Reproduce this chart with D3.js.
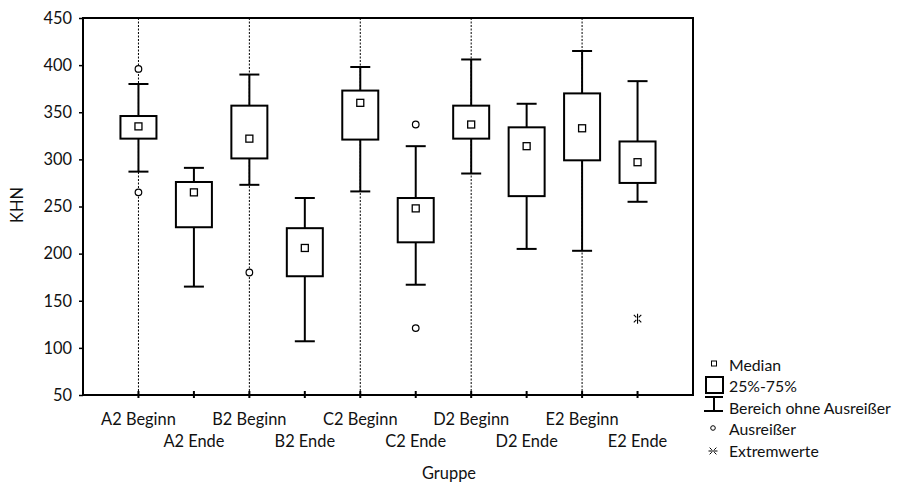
<!DOCTYPE html>
<html>
<head>
<meta charset="utf-8">
<script src="https://cdn.jsdelivr.net/npm/d3@7"></script>
<style>
  html, body { margin: 0; padding: 0; background: #fff; }
  svg { display: block; font-family: Lato, "Open Sans", sans-serif; }
</style>
</head>
<body>
<svg id="chart" width="899" height="482"></svg>
<script>
// Knoop hardness (KHN) per group: start (Beginn) and end (Ende) of the series
const groups   = ["A2 Beginn", "A2 Ende", "B2 Beginn", "B2 Ende", "C2 Beginn",
                  "C2 Ende", "D2 Beginn", "D2 Ende", "E2 Beginn", "E2 Ende"];
const whiskLow = [287, 165, 273, 107, 266, 167, 285, 205, 203, 255];
const q1       = [322, 228, 301, 176, 321, 212, 322, 261, 299, 275];
const median   = [335, 265, 322, 206, 360, 248, 337, 314, 333, 297];
const q3       = [346, 276, 357, 227, 373, 259, 357, 334, 370, 319];
const whiskHigh= [380, 291, 390, 259, 398, 314, 406, 359, 415, 383];
// outliers and extreme values: [group, value]
const outliers = [["A2 Beginn", 396], ["A2 Beginn", 265], ["B2 Beginn", 180],
                  ["C2 Ende", 337], ["C2 Ende", 121]];
const extremes = [["E2 Ende", 131]];
const yTicks   = [50, 100, 150, 200, 250, 300, 350, 400, 450];
const legendLabels = ["Median", "25%-75%", "Bereich ohne Ausreißer", "Ausreißer", "Extremwerte"];

const svg = d3.select("#chart");
const plot = { left: 83, right: 693, top: 18, bottom: 395 };

const x = d3.scalePoint().domain(groups).range([plot.left, plot.right]).padding(1);
const y = d3.scaleLinear().domain([50, 450]).range([plot.bottom, plot.top]);

const fontSize = 16.4;

// dashed guide lines through the "Beginn" groups
svg.append("g").selectAll("line")
  .data(groups.filter((g, i) => i % 2 === 0))
  .join("line")
  .attr("x1", d => x(d)).attr("x2", d => x(d))
  .attr("y1", plot.top).attr("y2", plot.bottom)
  .attr("stroke", "#000").attr("stroke-width", 1)
  .attr("stroke-dasharray", "2,1.5");

// y axis
const yAxis = svg.append("g")
  .attr("transform", `translate(${plot.left},0)`)
  .call(d3.axisLeft(y).tickValues(yTicks).tickSize(4).tickPadding(7));
yAxis.select(".domain").remove();
yAxis.selectAll(".tick line").attr("stroke", "#000").attr("stroke-width", 1.5);
yAxis.selectAll(".tick text").attr("font-size", fontSize).attr("font-family", "Lato").attr("fill", "#111");

// x axis ticks crossing the baseline
svg.append("g").selectAll("line")
  .data(groups)
  .join("line")
  .attr("x1", d => x(d)).attr("x2", d => x(d))
  .attr("y1", plot.bottom - 4).attr("y2", plot.bottom + 3)
  .attr("stroke", "#000").attr("stroke-width", 2);

// x labels on two staggered rows
svg.append("g").selectAll("text")
  .data(groups)
  .join("text")
  .attr("x", d => x(d))
  .attr("y", (d, i) => i % 2 === 0 ? 425 : 447)
  .attr("text-anchor", "middle")
  .attr("font-size", fontSize)
  .attr("fill", "#111")
  .text(d => d);

// frame
svg.append("rect")
  .attr("x", plot.left).attr("y", plot.top)
  .attr("width", plot.right - plot.left).attr("height", plot.bottom - plot.top)
  .attr("fill", "none").attr("stroke", "#000").attr("stroke-width", 2);

// axis titles
svg.append("text")
  .attr("x", 449).attr("y", 479)
  .attr("text-anchor", "middle").attr("font-size", fontSize).attr("fill", "#111")
  .text("Gruppe");
svg.append("text")
  .attr("transform", "translate(23,205) rotate(-90)")
  .attr("text-anchor", "middle").attr("font-size", fontSize).attr("fill", "#111")
  .text("KHN");

// box plots
const boxW = 36, capW = 20;
const boxes = svg.append("g").selectAll("g")
  .data(groups.map((g, i) => ({ g, lo: whiskLow[i], q1: q1[i], med: median[i], q3: q3[i], hi: whiskHigh[i] })))
  .join("g");

boxes.append("line")
  .attr("x1", d => x(d.g)).attr("x2", d => x(d.g))
  .attr("y1", d => y(d.hi)).attr("y2", d => y(d.q3))
  .attr("stroke", "#000").attr("stroke-width", 2);
boxes.append("line")
  .attr("x1", d => x(d.g)).attr("x2", d => x(d.g))
  .attr("y1", d => y(d.q1)).attr("y2", d => y(d.lo))
  .attr("stroke", "#000").attr("stroke-width", 2);
boxes.append("line")
  .attr("x1", d => x(d.g) - capW / 2).attr("x2", d => x(d.g) + capW / 2)
  .attr("y1", d => y(d.hi)).attr("y2", d => y(d.hi))
  .attr("stroke", "#000").attr("stroke-width", 2);
boxes.append("line")
  .attr("x1", d => x(d.g) - capW / 2).attr("x2", d => x(d.g) + capW / 2)
  .attr("y1", d => y(d.lo)).attr("y2", d => y(d.lo))
  .attr("stroke", "#000").attr("stroke-width", 2);
boxes.append("rect")
  .attr("x", d => x(d.g) - boxW / 2).attr("width", boxW)
  .attr("y", d => y(d.q3)).attr("height", d => y(d.q1) - y(d.q3))
  .attr("fill", "#fff").attr("stroke", "#000").attr("stroke-width", 2);
boxes.append("rect")
  .attr("x", d => x(d.g) - 3.5).attr("width", 7)
  .attr("y", d => y(d.med) - 3.5).attr("height", 7)
  .attr("fill", "#fff").attr("stroke", "#000").attr("stroke-width", 1.3);

// outliers
svg.append("g").selectAll("circle")
  .data(outliers)
  .join("circle")
  .attr("cx", d => x(d[0])).attr("cy", d => y(d[1])).attr("r", 3.3)
  .attr("fill", "#fff").attr("stroke", "#000").attr("stroke-width", 1.2);

// extreme-value marker: an X with a straight stroke through it
function starPath(cx, cy, r, vertical) {
  const a = r * 0.75, g = 1.2;
  let p = "";
  [[-1, -1], [1, -1], [-1, 1], [1, 1]].forEach(([sx, sy]) => {
    p += `M${cx + sx * g},${cy + sy * g}L${cx + sx * a},${cy + sy * a}`;
  });
  p += vertical ? `M${cx},${cy - r}L${cx},${cy + r}` : `M${cx - r},${cy}L${cx + r},${cy}`;
  return p;
}
svg.append("g").selectAll("path")
  .data(extremes)
  .join("path")
  .attr("d", d => starPath(x(d[0]), y(d[1]), 5, true))
  .attr("fill", "none").attr("stroke", "#000").attr("stroke-width", 1.1);

// legend
const lg = svg.append("g");
const lx = 714, textX = 729;
const rows = [365, 386, 408, 429, 451];
lg.selectAll("text")
  .data(legendLabels)
  .join("text")
  .attr("x", textX).attr("y", (d, i) => rows[i] + 5.5)
  .attr("font-size", 15.8).attr("fill", "#111")
  .text(d => d);
lg.append("rect").attr("x", lx - 2.5).attr("y", rows[0] - 4).attr("width", 5).attr("height", 5)
  .attr("fill", "#fff").attr("stroke", "#000").attr("stroke-width", 1);
lg.append("rect").attr("x", 706).attr("y", 377).attr("width", 17).attr("height", 16)
  .attr("fill", "#fff").attr("stroke", "#000").attr("stroke-width", 2);
lg.append("path").attr("d", "M705,397L723,397M714,397L714,411M704,411L723,411")
  .attr("fill", "none").attr("stroke", "#000").attr("stroke-width", 2);
lg.append("circle").attr("cx", lx - 1).attr("cy", rows[3] - 1).attr("r", 2.3)
  .attr("fill", "#fff").attr("stroke", "#000").attr("stroke-width", 1);
lg.append("path").attr("d", starPath(lx - 1, rows[4], 4.5, false))
  .attr("fill", "none").attr("stroke", "#000").attr("stroke-width", 1);
</script>
</body>
</html>
